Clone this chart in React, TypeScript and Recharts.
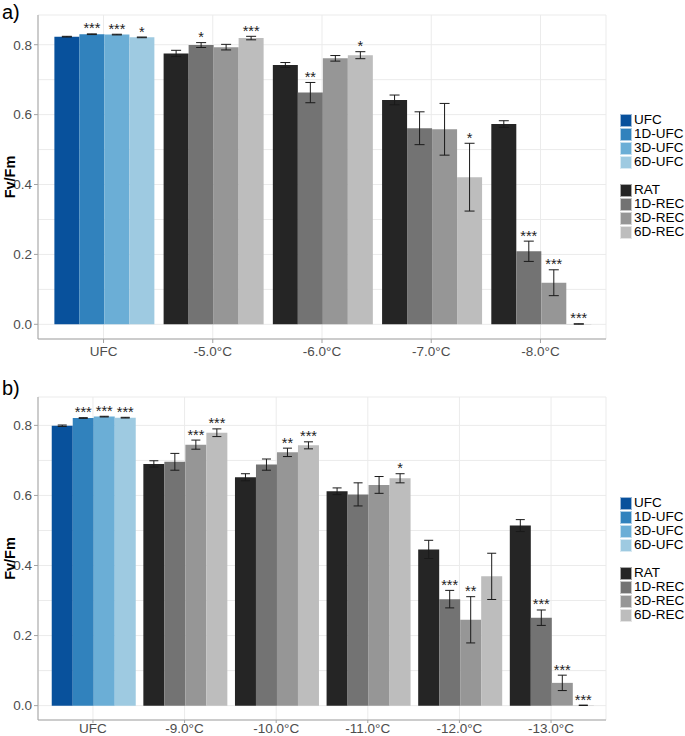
import React from 'react';
import { BarChart, Bar, XAxis, YAxis, CartesianGrid, ErrorBar, Cell, LabelList } from 'recharts';

const FONT = '"Liberation Sans", Arial, Helvetica, sans-serif';

const ufcColors = ['#08519c', '#3182bd', '#6baed6', '#9ecae1'];
const recColors = ['#252525', '#737373', '#969696', '#bdbdbd'];
const ufcLabels = ['UFC', '1D-UFC', '3D-UFC', '6D-UFC'];
const recLabels = ['RAT', '1D-REC', '3D-REC', '6D-REC'];

const yTicks = [0, 0.1, 0.2, 0.3, 0.4, 0.5, 0.6, 0.7, 0.8];
const yMajor = [0, 0.2, 0.4, 0.6, 0.8];

// ---------- Panel a ----------
const catsA = ['UFC', '-5.0°C', '-6.0°C', '-7.0°C', '-8.0°C'];
const a1 = [0.823, 0.775, 0.742, 0.642, 0.573];
const a2 = [0.830, 0.799, 0.663, 0.561, 0.209];
const a3 = [0.829, 0.793, 0.761, 0.558, 0.119];
const a4 = [0.821, 0.819, 0.770, 0.421, 0.001];
const aErr1 = [0.001, 0.009, 0.007, 0.014, 0.0095];
const aErr2 = [0.001, 0.007, 0.029, 0.047, 0.029];
const aErr3 = [0.001, 0.008, 0.008, 0.074, 0.037];
const aErr4 = [0.001, 0.005, 0.010, 0.097, 0.0005];
const aSig1 = ['', '', '', '', ''];
const aSig2 = ['***', '*', '**', '', '***'];
const aSig3 = ['***', '', '', '', '***'];
const aSig4 = ['*', '***', '*', '*', '***'];

// ---------- Panel b ----------
const catsB = ['UFC', '-9.0°C', '-10.0°C', '-11.0°C', '-12.0°C', '-13.0°C'];
const b1 = [0.799, 0.690, 0.652, 0.612, 0.446, 0.514];
const b2 = [0.821, 0.696, 0.688, 0.603, 0.304, 0.251];
const b3 = [0.825, 0.745, 0.723, 0.630, 0.245, 0.065];
const b4 = [0.822, 0.779, 0.743, 0.649, 0.369, 0.001];
const bErr1 = [0.002, 0.009, 0.010, 0.0095, 0.026, 0.017];
const bErr2 = [0.001, 0.024, 0.016, 0.033, 0.025, 0.022];
const bErr3 = [0.001, 0.013, 0.012, 0.024, 0.066, 0.022];
const bErr4 = [0.001, 0.011, 0.010, 0.013, 0.066, 0.0005];
const bSig1 = ['', '', '', '', '', ''];
const bSig2 = ['***', '', '', '', '***', '***'];
const bSig3 = ['***', '***', '**', '', '**', '***'];
const bSig4 = ['***', '***', '***', '*', '', '***'];

const CHART_W = 685;
const LEFT = 38;
const RIGHT = 79;
const BORDER = '#a3a3a3';
const GRID = '#ebebeb';
const TICK_TEXT = '#4d4d4d';

function buildData(cats: string[], vals: number[][], errs: number[][], sigs: string[][]) {
  return cats.map((c, i) => {
    const row: any = { cat: c };
    for (let k = 0; k < 4; k++) {
      row['v' + k] = vals[k][i];
      row['e' + k] = errs[k][i];
      row['s' + k] = sigs[k][i];
    }
    return row;
  });
}

const YTick = (props: any) => {
  const { x, y, payload } = props;
  const v = payload.value;
  if (!yMajor.some((m) => Math.abs(m - v) < 1e-9)) return null;
  return (
    <g>
      <line x1={x + 2} x2={x + 6} y1={y} y2={y} stroke={BORDER} />
      <text x={x} y={y} dy="0.36em" textAnchor="end" fontSize={13.5} fill={TICK_TEXT} fontFamily={FONT}>
        {v.toFixed(1)}
      </text>
    </g>
  );
};

type PanelProps = {
  cats: string[];
  vals: number[][];
  errs: number[][];
  sigs: string[][];
  domain: [number, number];
  height: number;
  marginTop: number;
  xAxisHeight: number;
  capHalf: number;
  tickMargin: number;
  tickSize: number;
};

function Panel({ cats, vals, errs, sigs, domain, height, marginTop, xAxisHeight, capHalf, tickMargin, tickSize }: PanelProps) {
  const data = buildData(cats, vals, errs, sigs);
  const plotW = CHART_W - LEFT - RIGHT;
  const plotH = height - marginTop - xAxisHeight;
  const ppu = plotH / (domain[1] - domain[0]);
  const pad = (plotW / (cats.length + 0.2)) * 0.1;

  const starContent = (k: number) => (p: any) => {
    const value = p.value;
    if (!value) return null;
    const vb = p.viewBox || p;
    const cx = vb.x + vb.width / 2;
    const top = Math.min(vb.y, vb.y + vb.height);
    const err = errs[k][p.index] || 0;
    return (
      <text x={cx} y={top - err * ppu - 0.5} textAnchor="middle" fontSize={14.5} fill="#222" fontFamily={FONT}>
        {value}
      </text>
    );
  };

  return (
    <BarChart
      width={CHART_W}
      height={height}
      data={data}
      margin={{ top: marginTop, right: RIGHT, bottom: 0, left: 0 }}
      barCategoryGap="5%"
      barGap={0}
    >
      <CartesianGrid stroke={GRID} strokeWidth={1} />
      <XAxis
        dataKey="cat"
        height={xAxisHeight}
        padding={{ left: pad, right: pad }}
        tickSize={tickSize}
        tickMargin={tickMargin}
        tickLine={{ stroke: BORDER }}
        axisLine={{ stroke: BORDER }}
        tick={{ fontSize: 13.5, fill: TICK_TEXT, fontFamily: FONT }}
        interval={0}
      />
      <XAxis
        xAxisId="top"
        dataKey="cat"
        orientation="top"
        height={0}
        tick={false}
        tickLine={false}
        axisLine={{ stroke: BORDER }}
      />
      <YAxis
        type="number"
        domain={domain}
        allowDataOverflow
        ticks={yTicks}
        width={LEFT}
        tickSize={4}
        tickMargin={2}
        tickLine={false}
        axisLine={{ stroke: BORDER }}
        tick={<YTick />}
        label={{
          value: 'Fv/Fm',
          angle: -90,
          position: 'insideLeft',
          offset: 10,
          style: { textAnchor: 'middle', fontWeight: 'bold', fontSize: 14.5, fill: '#000', fontFamily: FONT },
        }}
      />
      <YAxis
        yAxisId="right"
        orientation="right"
        type="number"
        domain={domain}
        allowDataOverflow
        width={0}
        tick={false}
        tickLine={false}
        axisLine={{ stroke: BORDER }}
      />
      {[0, 1, 2, 3].map((k) => (
        <Bar key={k} dataKey={'v' + k} isAnimationActive={false}>
          {data.map((_, i) => (
            <Cell key={i} fill={i === 0 ? ufcColors[k] : recColors[k]} />
          ))}
          <ErrorBar dataKey={'e' + k} width={capHalf} stroke="#1a1a1a" strokeWidth={1} direction="y" />
          <LabelList dataKey={'s' + k} content={starContent(k)} />
        </Bar>
      ))}
    </BarChart>
  );
}

function LegendBlock({ top }: { top: number }) {
  const rowH = 14;
  const row = (label: string, color: string) => (
    <div key={label} style={{ height: rowH, display: 'flex', alignItems: 'center' }}>
      <div style={{ width: 12, height: 13, background: color, marginRight: 2, boxSizing: 'border-box', border: '0.5px solid rgba(255,255,255,0.6)' }} />
      <span style={{ lineHeight: rowH + 'px', color: '#000' }}>{label}</span>
    </div>
  );
  return (
    <div style={{ position: 'absolute', left: 620, top, fontFamily: FONT, fontSize: 13.5 }}>
      {ufcLabels.map((l, i) => row(l, ufcColors[i]))}
      <div style={{ height: rowH }} />
      {recLabels.map((l, i) => row(l, recColors[i]))}
    </div>
  );
}

export default function App() {
  return (
    <div style={{ position: 'absolute', left: 0, top: 0, width: 685, height: 736, background: '#fff', overflow: 'hidden' }}>
      <div style={{ position: 'absolute', left: 0, top: 0 }}>
        <Panel
          cats={catsA}
          vals={[a1, a2, a3, a4]}
          errs={[aErr1, aErr2, aErr3, aErr4]}
          sigs={[aSig1, aSig2, aSig3, aSig4]}
          domain={[-0.042, 0.885]}
          height={360}
          marginTop={15}
          xAxisHeight={21}
          capHalf={5}
          tickMargin={3}
          tickSize={4}
        />
      </div>
      <div style={{ position: 'absolute', left: 0, top: 360 }}>
        <Panel
          cats={catsB}
          vals={[b1, b2, b3, b4]}
          errs={[bErr1, bErr2, bErr3, bErr4]}
          sigs={[bSig1, bSig2, bSig3, bSig4]}
          domain={[-0.041, 0.881]}
          height={376}
          marginTop={37}
          xAxisHeight={16}
          capHalf={4.5}
          tickMargin={0}
          tickSize={3}
        />
      </div>
      <LegendBlock top={113} />
      <LegendBlock top={496} />
      <div style={{ position: 'absolute', left: 2, top: 2, fontFamily: FONT, fontSize: 20, lineHeight: '20px' }}>a)</div>
      <div style={{ position: 'absolute', left: 2, top: 378, fontFamily: FONT, fontSize: 20, lineHeight: '20px' }}>b)</div>
    </div>
  );
}
